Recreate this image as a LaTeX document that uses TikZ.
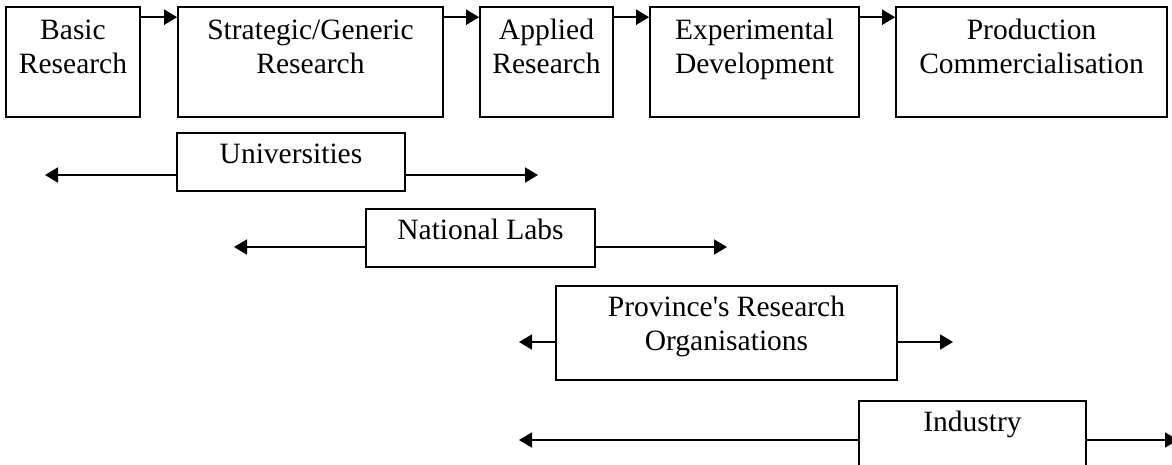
\documentclass[tikz,border=0pt]{standalone}
\usepackage{fontspec}
\setmainfont{Liberation Serif}
\usetikzlibrary{arrows.meta,calc}
\begin{document}
\begin{tikzpicture}[x=1pt,y=-1pt,
  box/.style={draw=black,line width=1.6pt,rectangle,inner sep=0pt},
  txt/.style={inner sep=0pt,align=center,anchor=north,font=\fontsize{29.5}{34}\selectfont},
  arr/.style={line width=1.8pt,-{Triangle[length=13pt,width=15pt]}}]
\useasboundingbox (0,0) rectangle (1172,464);
\fill[white] (0,0) rectangle (1172,464);
% top row
\node[box,minimum width=134pt,minimum height=110pt] (b1) at (73,62) {};
\node[box,minimum width=265pt,minimum height=110pt] (b2) at (310.5,62) {};
\node[box,minimum width=133pt,minimum height=110pt] (b3) at (546.5,62) {};
\node[box,minimum width=209pt,minimum height=110pt] (b4) at (754.5,62) {};
\node[box,minimum width=271pt,minimum height=110pt] (b5) at (1031.5,62) {};
\node[txt] (t1) at ([yshift=-9pt]b1.north) {\strut Basic\\Research};
\node[txt] (t2) at ([yshift=-9pt]b2.north) {\strut Strategic/Generic\\Research};
\node[txt] (t3) at ([yshift=-9pt]b3.north) {\strut Applied\\Research};
\node[txt] (t4) at ([yshift=-9pt]b4.north) {\strut Experimental\\Development};
\node[txt] (t5) at ([yshift=-9pt]b5.north) {\strut Production\\Commercialisation};
\draw[arr] ([yshift=-11pt]b1.north east) -- ([yshift=-11pt]b2.north west);
\draw[arr] ([yshift=-11pt]b2.north east) -- ([yshift=-11pt]b3.north west);
\draw[arr] ([yshift=-11pt]b3.north east) -- ([yshift=-11pt]b4.north west);
\draw[arr] ([yshift=-11pt]b4.north east) -- ([yshift=-11pt]b5.north west);
% lower boxes
\node[box,minimum width=228pt,minimum height=58pt] (u) at (291,162) {};
\node[txt] (tu) at ([yshift=-7pt]u.north) {\strut Universities};
\coordinate (uL) at (45,175);
\coordinate (uR) at (538,175);
\draw[arr] (u.west |- uL) -- (uL);
\draw[arr] (u.east |- uR) -- (uR);
\node[box,minimum width=229pt,minimum height=58pt] (n) at (480.5,238) {};
\node[txt] (tn) at ([yshift=-7pt]n.north) {\strut National Labs};
\coordinate (nL) at (234,247);
\coordinate (nR) at (727,247);
\draw[arr] (n.west |- nL) -- (nL);
\draw[arr] (n.east |- nR) -- (nR);
\node[box,minimum width=341pt,minimum height=94pt] (p) at (726.5,333) {};
\node[txt] (tp) at ([yshift=-7pt]p.north) {\strut Province\textquotesingle s Research\\Organisations};
\coordinate (pL) at (519,342);
\coordinate (pR) at (953,342);
\draw[arr] (p.west |- pL) -- (pL);
\draw[arr] (p.east |- pR) -- (pR);
\node[box,minimum width=227pt,minimum height=72pt] (i) at (972.5,437) {};
\node[txt] (ti) at ([yshift=-7pt]i.north) {\strut Industry};
\coordinate (iL) at (519,440);
\coordinate (iR) at (1178,440);
\draw[arr] (i.west |- iL) -- (iL);
\draw[arr] (i.east |- iR) -- (iR);
\end{tikzpicture}
\end{document}
